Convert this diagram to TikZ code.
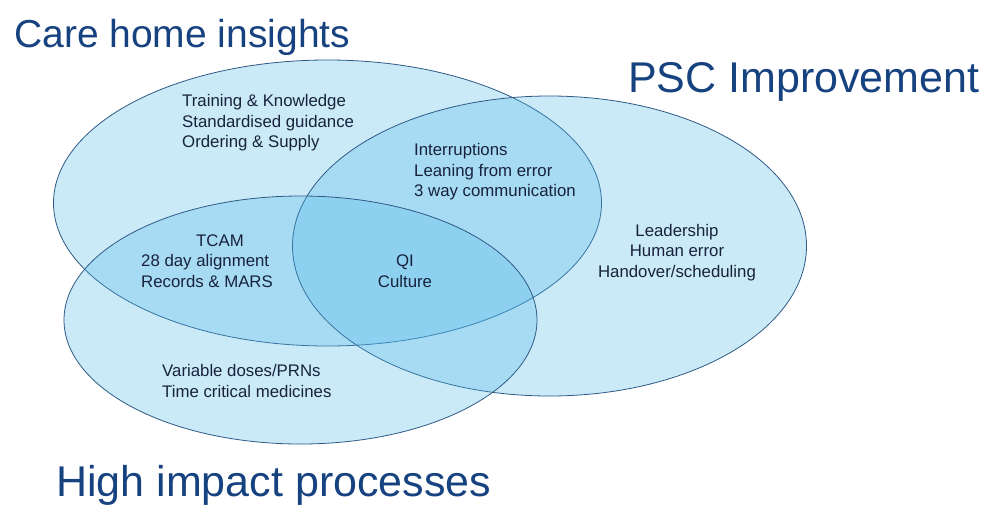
\documentclass[tikz,border=0pt]{standalone}
\usepackage{fontspec}
\setmainfont{Liberation Sans}
\usetikzlibrary{shapes.geometric}
\definecolor{vfill}{RGB}{79,183,231}
\definecolor{vline}{RGB}{47,90,135}
\definecolor{titleblue}{RGB}{22,66,128}
\definecolor{bodytext}{RGB}{24,34,60}
\begin{document}
\begin{tikzpicture}[x=1pt,y=-1pt,
  venn/.style={ellipse, draw=vline, line width=0.8pt, fill=vfill, fill opacity=0.29, inner sep=0pt},
  title/.style={font=\fontsize{43}{50}\selectfont, text=titleblue, inner sep=0pt, anchor=base west},
  body/.style={font=\fontsize{16.8}{20.5}\selectfont, text=bodytext, inner sep=0pt}]
\useasboundingbox (0,0) rectangle (986,504);
\fill[white] (0,0) rectangle (986,504);
\node[venn, minimum width=548pt, minimum height=286pt] (A) at (327.5,203) {};
\node[venn, minimum width=514pt, minimum height=300pt] (B) at (549.5,246) {};
\node[venn, minimum width=473pt, minimum height=248pt] (C) at (300.5,320) {};
\node[title, font=\fontsize{39}{46}\selectfont] (tA) at (14,47) {Care home insights};
\node[title] (tB) at (628,92) {PSC Improvement};
\node[title] (tC) at (56,496) {High impact processes};
\node[body, align=left, anchor=base west] (b1) at (182,147.5) {Training \& Knowledge\\Standardised guidance\\Ordering \& Supply};
\node[body, align=left, anchor=base west] (b2) at (414,196.5) {Interruptions\\Leaning from error\\3 way communication};
\node[body, align=left, anchor=base west] (b3) at (141,287) {\hspace{55pt}TCAM\\28 day alignment\\Records \& MARS};
\node[body, align=center, anchor=base] (b4) at (405,287) {QI\\Culture};
\node[body, align=center, anchor=base] (b5) at (677,277) {Leadership\\Human error\\Handover/scheduling};
\node[body, align=left, anchor=base west] (b6) at (162,397) {Variable doses/PRNs\\Time critical medicines};
\end{tikzpicture}
\end{document}
